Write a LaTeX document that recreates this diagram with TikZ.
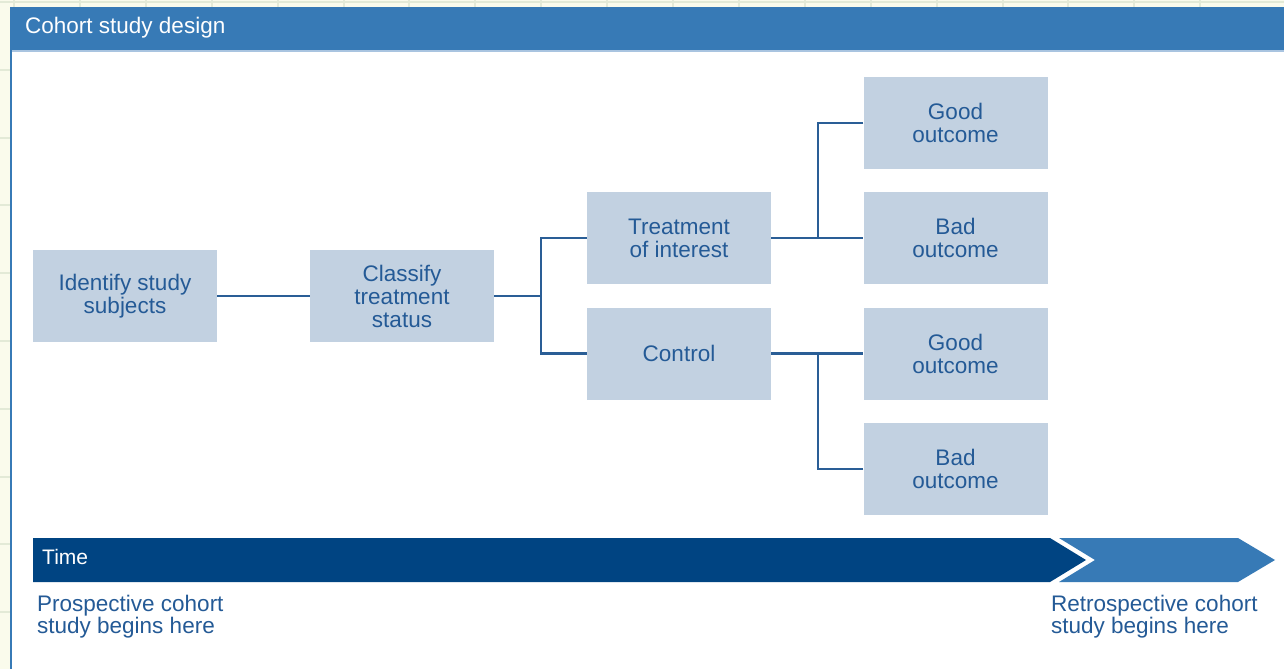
\documentclass[tikz,border=0pt]{standalone}
\usepackage{fontspec}
\setmainfont{Liberation Sans}
\definecolor{bgpale}{HTML}{FAFBEC}
\definecolor{gridc}{HTML}{E3EAD7}
\definecolor{barblue}{HTML}{377AB6}
\definecolor{lightline}{HTML}{A9C4E0}
\definecolor{boxfill}{HTML}{C2D1E1}
\definecolor{txtblue}{HTML}{245A96}
\definecolor{linec}{HTML}{2A5E96}
\definecolor{navy}{HTML}{004482}
\tikzset{
  stepbox/.style={fill=boxfill, minimum width=184pt, minimum height=92pt, inner sep=0pt,
    align=center, text=txtblue, font=\fontsize{22.5}{23}\selectfont},
  conn/.style={draw=linec, line width=2.4pt},
  note/.style={anchor=base west, align=left, text=txtblue, inner sep=0pt,
    font=\fontsize{22.5}{21.5}\selectfont},
}
\begin{document}
\begin{tikzpicture}[x=1pt,y=-1pt]
\useasboundingbox (0,0) rectangle (1284,669);
% outer background with grid
\fill[bgpale] (0,0) rectangle (1284,669);
\foreach \k in {0,...,18} {\draw[gridc, line width=2pt] ({14+65.9*\k},0) -- ({14+65.9*\k},669);}
\foreach \k in {0,...,9} {\draw[gridc, line width=2pt] (0,{2+67.8*\k}) -- (1284,{2+67.8*\k});}
% panel
\fill[white] (12,51) rectangle (1284,669);
\fill[barblue] (10,7) rectangle (12,669);
\fill[barblue] (10,7) rectangle (1284,50);
\fill[lightline] (12,50) rectangle (1284,52);
\node[anchor=base west, text=white, inner sep=0pt, font=\fontsize{22.5}{23}\selectfont] (title) at (25,34) {Cohort study design};
% boxes
\node[stepbox] (id) at (125,296) {Identify study\\subjects};
\node[stepbox] (cl) at (402,296) {Classify\\treatment\\status};
\node[stepbox] (tr) at (679,238) {Treatment\\of interest};
\node[stepbox] (co) at (679,353.5) {Control};
\node[stepbox] (g1) at (955.5,123) {Good\\outcome};
\node[stepbox] (b1) at (955.5,238) {Bad\\outcome};
\node[stepbox] (g2) at (955.5,353.5) {Good\\outcome};
\node[stepbox] (b2) at (955.5,469) {Bad\\outcome};
% connectors
\coordinate (j1) at (541,296);
\coordinate (j2) at (818,238);
\coordinate (j3) at (818,353.5);
\draw[conn] (id.east) -- (cl.west);
\draw[conn] (cl.east) -- (j1);
\draw[conn] (tr.west) -| (j1) |- (co.west);
\draw[conn] (tr.east) -- (b1.west);
\draw[conn] (g1.west) -| (j2);
\draw[conn] (co.east) -- (g2.west);
\draw[conn] (b2.west) -| (j3);
% time arrow
\fill[navy] (33,538) -- (1050,538) -- (1086,560) -- (1050,582) -- (33,582) -- cycle;
\fill[barblue] (1059,538) -- (1238,538) -- (1275,560) -- (1238,582) -- (1059,582) -- (1095,560) -- cycle;
\node[anchor=base west, text=white, inner sep=0pt, font=\fontsize{21}{22}\selectfont] (time) at (42,564.5) {Time};
\node[note] (pro) at (37,633) {Prospective cohort\\study begins here};
\node[note] (retro) at (1051,633) {Retrospective cohort\\study begins here};
\end{tikzpicture}
\end{document}
